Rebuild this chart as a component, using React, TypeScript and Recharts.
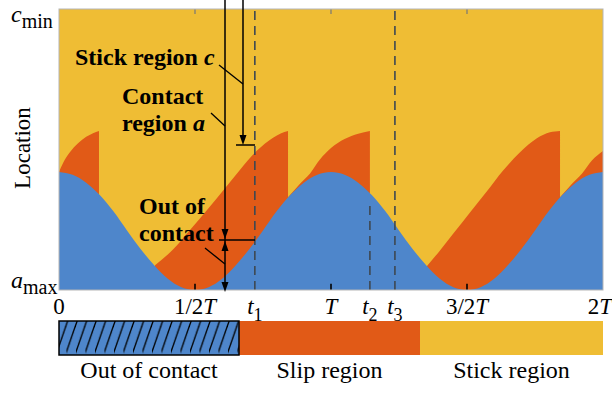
import React from "react";
import { ComposedChart, Area, XAxis, YAxis, CartesianGrid, ReferenceLine } from "recharts";

const YELLOW = "#EFBD34";
const ORANGE = "#E15A17";
const BLUE = "#4E86CB";
const DASH = "#3E4852";
const SERIF = '"Liberation Serif"';

// time is in units of T, location runs from a_max (0) to c_min (1)
const T1 = 0.72;
const T2 = 1.143;
const T3 = 1.235;

const gridTime = [
  0, 0.05, 0.1, 0.15, 0.2, 0.25, 0.3, 0.35, 0.4, 0.45, 0.5, 0.55, 0.6, 0.65, 0.7, 0.75, 0.8, 0.85, 0.9, 0.95,
  1, 1.05, 1.1, 1.15, 1.2, 1.25, 1.3, 1.35, 1.4, 1.45, 1.5, 1.55, 1.6, 1.65, 1.7, 1.75, 1.8, 1.85, 1.9, 1.95, 2,
];
// edge of the contact region a (blue)
const contactEdge = [
  0.42, 0.41, 0.382, 0.338, 0.28, 0.212, 0.146, 0.088, 0.04, 0.01, 0, 0.01, 0.04, 0.088, 0.146, 0.212, 0.28, 0.338, 0.382, 0.41,
  0.42, 0.41, 0.382, 0.338, 0.28, 0.212, 0.146, 0.088, 0.04, 0.01, 0, 0.01, 0.04, 0.088, 0.146, 0.212, 0.28, 0.338, 0.382, 0.41, 0.42,
];

// edge of the stick region c (top of the orange slip lobes)
const slip0Time = [0, 0.015, 0.04, 0.07, 0.1, 0.125, 0.147];
const slip0Edge = [0.42, 0.452, 0.49, 0.522, 0.545, 0.558, 0.566];

const slip1Time = [0.353, 0.42, 0.48, 0.545, 0.605, 0.665, 0.728, 0.787, 0.815, 0.842];
const slip1Edge = [0.088, 0.145, 0.212, 0.286, 0.356, 0.427, 0.496, 0.542, 0.557, 0.566];

const slip2Time = [0.842, 0.886, 0.923, 0.96, 1.0, 1.05, 1.1, 1.143];
const slip2Edge = [0.33, 0.378, 0.415, 0.465, 0.505, 0.537, 0.556, 0.566];

const slip3Time = [1.353, 1.4, 1.449, 1.511, 1.574, 1.632, 1.695, 1.757, 1.805, 1.842];
const slip3Edge = [0.085, 0.14, 0.2, 0.276, 0.352, 0.424, 0.49, 0.54, 0.561, 0.566];

const slip4Time = [1.842, 1.886, 1.923, 1.96, 2.0];
const slip4Edge = [0.33, 0.378, 0.415, 0.462, 0.495];

const xTickValues = [0, 0.5, T1, 1, T2, T3, 1.5, 2];
const xTickLead = ["0", "1/2", "", "", "", "", "3/2", "2"];
const xTickItalic = ["", "T", "t", "T", "t", "t", "T", "T"];
const xTickSub = ["", "", "1", "", "2", "3", "", ""];

const legendNames = ["Out of contact", "Slip region", "Stick region"];
const legendColors = [BLUE, ORANGE, YELLOW];

const slipKeys = ["slip0", "slip1", "slip2", "slip3", "slip4"];
const seriesList: [string, number[], number[]][] = [
  ["contact", gridTime, contactEdge],
  ["slip0", slip0Time, slip0Edge],
  ["slip1", slip1Time, slip1Edge],
  ["slip2", slip2Time, slip2Edge],
  ["slip3", slip3Time, slip3Edge],
  ["slip4", slip4Time, slip4Edge],
];

const rowMap = new Map<number, any>();
seriesList.forEach(([key, ts, vs]) => {
  ts.forEach((t, i) => {
    const k = Math.round(t * 1000);
    if (!rowMap.has(k)) rowMap.set(k, { t });
    rowMap.get(k)[key] = vs[i];
  });
});
const rows = [...rowMap.values()]
  .sort((a, b) => a.t - b.t)
  .map((r) => {
    const row: any = { t: r.t };
    seriesList.forEach(([key]) => (row[key] = r[key] ?? null));
    return row;
  });

const serifStyle = { fontFamily: SERIF };

const XTick = (props: any) => {
  const { x, y, payload } = props;
  const i = xTickValues.indexOf(payload.value);
  if (i < 0) return null;
  const isLast = i === xTickValues.length - 1;
  return (
    <text x={isLast ? x - 3 : x} y={y + 24} textAnchor="middle" style={serifStyle} fontSize={23} fill="#000">
      {xTickLead[i] && <tspan>{xTickLead[i]}</tspan>}
      {xTickItalic[i] && <tspan fontStyle="italic">{xTickItalic[i]}</tspan>}
      {xTickSub[i] && (
        <tspan fontSize={18} dy={7}>
          {xTickSub[i]}
        </tspan>
      )}
    </text>
  );
};

const YTick = (props: any) => {
  const { y, payload } = props;
  const top = payload.value === 1;
  return (
    <text x={11} y={top ? y + 13 : y - 2} style={serifStyle} fontSize={24} fill="#000">
      <tspan fontStyle="italic">{top ? "c" : "a"}</tspan>
      <tspan fontSize={20} dy={6}>
        {top ? "min" : "max"}
      </tspan>
    </text>
  );
};

const Arrow = ({ x, y, dir }: { x: number; y: number; dir: 1 | -1 }) => (
  <polygon points={`${x},${y} ${x - 3.5},${y - dir * 10} ${x + 3.5},${y - dir * 10}`} fill="#000" />
);

const Overlay = () => {
  const barTop = 321;
  const barH = 34;
  const segs = [59, 239, 420, 603];
  return (
    <svg width={612} height={413} style={{ position: "absolute", left: 0, top: 0, pointerEvents: "none" }}>
      <defs>
        <pattern id="hatch" patternUnits="userSpaceOnUse" x={0} y={barTop} width={9.5} height={barH}>
          <line x1={-1.5} y1={barH + 1} x2={11} y2={-1} stroke="#000" strokeWidth={1.3} />
          <line x1={-11} y1={barH + 1} x2={1.5} y2={-1} stroke="#000" strokeWidth={1.3} />
        </pattern>
      </defs>
      <rect x={59} y={9} width={544} height={281} fill="none" stroke="#b5b5b5" strokeWidth={1} />

      <text transform="translate(30,148) rotate(-90)" textAnchor="middle" style={serifStyle} fontSize={23} fill="#000">
        Location
      </text>

      {/* arrows: contact region a and out of contact */}
      <line x1={225} y1={0} x2={225} y2={284} stroke="#000" strokeWidth={1.5} />
      <Arrow x={225} y={239} dir={1} />
      <Arrow x={225} y={241} dir={-1} />
      <Arrow x={225} y={292} dir={1} />
      <line x1={219} y1={240} x2={255} y2={240} stroke="#000" strokeWidth={1.5} />
      {/* arrow: stick region c */}
      <line x1={243} y1={0} x2={243} y2={138} stroke="#000" strokeWidth={1.5} />
      <Arrow x={243} y={145} dir={1} />
      <line x1={236} y1={145} x2={255} y2={145} stroke="#000" strokeWidth={1.5} />

      <g style={serifStyle} fontSize={24} fontWeight="bold" fill="#000">
        <text x={75} y={65}>
          Stick region <tspan fontStyle="italic">c</tspan>
        </text>
        <text x={122} y={104}>Contact</text>
        <text x={122} y={131}>
          region <tspan fontStyle="italic">a</tspan>
        </text>
        <text x={139} y={214}>Out of</text>
        <text x={139} y={241}>contact</text>
      </g>
      <line x1={219} y1={65} x2={243} y2={84} stroke="#000" strokeWidth={1.3} />
      <line x1={211} y1={113} x2={225} y2={126} stroke="#000" strokeWidth={1.3} />
      <line x1={205} y1={248} x2={225} y2={264} stroke="#000" strokeWidth={1.3} />

      {/* legend bar */}
      {legendNames.map((name, i) => (
        <g key={name}>
          <rect x={segs[i]} y={barTop} width={segs[i + 1] - segs[i]} height={barH} fill={legendColors[i]} />
          <text
            x={(segs[i] + segs[i + 1]) / 2}
            y={barTop + 57}
            textAnchor="middle"
            style={serifStyle}
            fontSize={24}
            fill="#000"
          >
            {name}
          </text>
        </g>
      ))}
      <rect x={segs[0]} y={barTop} width={segs[1] - segs[0]} height={barH} fill="url(#hatch)" stroke="#000" strokeWidth={1.5} />
    </svg>
  );
};

export default function App() {
  return (
    <div style={{ position: "absolute", left: 0, top: 0, width: 612, height: 413, background: "#fff", fontFamily: SERIF }}>
      <ComposedChart width={612} height={413} data={rows} margin={{ top: 9, right: 9, left: 0, bottom: 93 }}>
        <CartesianGrid fill={YELLOW} stroke="none" vertical={false} horizontal={false} />
        <XAxis
          dataKey="t"
          type="number"
          domain={[0, 2]}
          ticks={xTickValues}
          interval={0}
          height={30}
          axisLine={false}
          tickLine={false}
          tickSize={0}
          tickMargin={0}
          tick={<XTick />}
        />
        <YAxis
          type="number"
          domain={[0, 1]}
          ticks={[0, 1]}
          width={59}
          axisLine={false}
          tickLine={false}
          tick={<YTick />}
        />
        {slipKeys.map((k) => (
          <Area
            key={k}
            dataKey={k}
            type="monotone"
            connectNulls
            fill={ORANGE}
            fillOpacity={1}
            stroke="none"
            isAnimationActive={false}
            dot={false}
            activeDot={false}
          />
        ))}
        <Area
          dataKey="contact"
          type="monotone"
          connectNulls
          fill={BLUE}
          fillOpacity={1}
          stroke="none"
          isAnimationActive={false}
          dot={false}
          activeDot={false}
        />
        <ReferenceLine x={T1} stroke={DASH} strokeDasharray="9 6" strokeWidth={1.6} />
        <ReferenceLine x={T3} stroke={DASH} strokeDasharray="9 6" strokeWidth={1.6} />
        <ReferenceLine segment={[{ x: T2, y: 0 }, { x: T2, y: 0.3 }]} stroke={DASH} strokeDasharray="9 6" strokeWidth={1.6} />
        {[0.5, 1, 1.5].map((t) => (
          <ReferenceLine key={`b${t}`} segment={[{ x: t, y: 0 }, { x: t, y: 0.022 }]} stroke="#000" strokeWidth={1.6} />
        ))}
        {[0.5, 1, 1.5].map((t) => (
          <ReferenceLine key={`u${t}`} segment={[{ x: t, y: 1 }, { x: t, y: 0.982 }]} stroke="#777" strokeWidth={1.2} />
        ))}
      </ComposedChart>
      <Overlay />
    </div>
  );
}
